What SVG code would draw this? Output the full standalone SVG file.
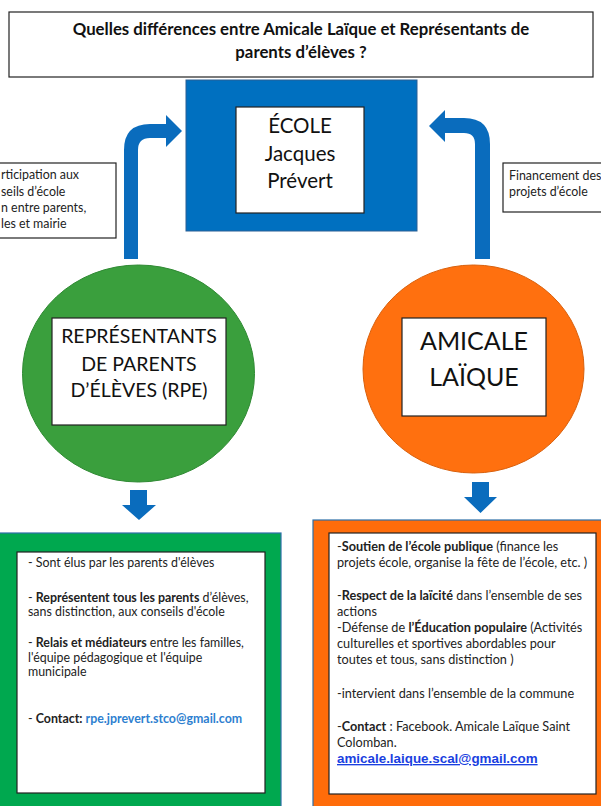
<svg xmlns="http://www.w3.org/2000/svg" width="601" height="806" viewBox="0 0 601 806">
<style>
.box{fill:#fff;stroke:#222;stroke-width:1.2}
.big{font-family:Lato,"Liberation Sans",sans-serif;fill:#111;text-anchor:middle}
.sm{font-family:Lato,"Liberation Sans",sans-serif;fill:#222;font-size:12.4px}
.om{font-family:Lato,"Liberation Sans",sans-serif;fill:#222;font-size:12.7px}
.b{font-weight:bold}
.arrow{fill:#0a6cbd}
</style>
<rect width="601" height="806" fill="#fff"/>
<g id="title">
<rect x="9" y="12" width="584" height="65" class="box"/>
<text class="big b" x="301" y="35" font-size="16.8">Quelles différences entre Amicale Laïque et Représentants de</text>
<text class="big b" x="301" y="58" font-size="16.8">parents d’élèves ?</text>
</g>
<g id="ecole">
<rect x="186" y="80" width="231" height="151" fill="#0070c0" stroke="#2a5f94" stroke-width="1"/>
<rect x="236" y="107" width="128" height="106" class="box"/>
<text class="big" x="300" y="133" font-size="20.5">ÉCOLE</text>
<text class="big" x="300" y="161" font-size="20.5">Jacques</text>
<text class="big" x="300" y="188" font-size="20.5">Prévert</text>
</g>
<g id="label-left">
<rect x="-2" y="163" width="118" height="75" class="box"/>
<text class="sm" x="1" y="179">rticipation aux</text>
<text class="sm" x="1" y="196">seils d’école</text>
<text class="sm" x="1" y="212">n entre parents,</text>
<text class="sm" x="1" y="228">les et mairie</text>
</g>
<g id="label-right">
<rect x="503" y="163" width="102" height="49" class="box"/>
<text class="sm" x="509" y="180">Financement des</text>
<text class="sm" x="509" y="196">projets d’école</text>
</g>
<g id="rpe">
<ellipse cx="138.5" cy="373.5" rx="116" ry="108.5" fill="#3a9f3d" stroke="#2f8a33" stroke-width="1"/>
<rect x="52" y="318" width="174" height="107" class="box"/>
<text class="big" x="139" y="343" font-size="19.5">REPRÉSENTANTS</text>
<text class="big" x="139" y="371" font-size="19.5">DE PARENTS</text>
<text class="big" x="139" y="397" font-size="19.5">D’ÉLÈVES (RPE)</text>
</g>
<g id="amicale">
<ellipse cx="473.5" cy="369" rx="110.5" ry="104" fill="#ff700f" stroke="#d9600c" stroke-width="1"/>
<rect x="402" y="318" width="144" height="98" class="box"/>
<text class="big" x="474" y="350" font-size="25">AMICALE</text>
<text class="big" x="474" y="386" font-size="25">LAÏQUE</text>
</g>
<g id="rpe-details">
<rect x="-2" y="533" width="283" height="280" fill="#00a84f" stroke="#2e6fa8" stroke-width="1.2"/>
<rect x="17" y="552" width="248" height="241" class="box"/>
<text class="sm" x="28" y="567">- Sont élus par les parents d'élèves</text>
<text class="sm" x="28" y="602">- <tspan class="b">Représentent tous les parents</tspan> d’élèves,</text>
<text class="sm" x="28" y="616">sans distinction, aux conseils d'école</text>
<text class="sm" x="28" y="647">- <tspan class="b">Relais et médiateurs</tspan> entre les familles,</text>
<text class="sm" x="28" y="662">l'équipe pédagogique et l'équipe</text>
<text class="sm" x="28" y="676">municipale</text>
<text class="sm" x="28" y="723" font-size="12.7">- <tspan class="b">Contact: </tspan><tspan class="b" fill="#2e7fd0">rpe.jprevert.stco@gmail.com</tspan></text>
</g>
<g id="amicale-details">
<rect x="313" y="520" width="292" height="293" fill="#ff6c0a" stroke="#2e6fa8" stroke-width="1.2"/>
<rect x="329" y="533" width="267" height="261" class="box"/>
<text class="om" x="337" y="551">-<tspan class="b">Soutien de l’école publique</tspan> (finance les</text>
<text class="om" x="337" y="567">projets école, organise la fête de l’école, etc. )</text>
<text class="om" x="337" y="600">-<tspan class="b">Respect de la laïcité</tspan> dans l’ensemble de ses</text>
<text class="om" x="337" y="616">actions</text>
<text class="om" x="337" y="632">-Défense de <tspan class="b">l’Éducation populaire</tspan> (Activités</text>
<text class="om" x="337" y="648">culturelles et sportives abordables pour</text>
<text class="om" x="337" y="664">toutes et tous, sans distinction )</text>
<text class="om" x="337" y="698">-intervient dans l’ensemble de la commune</text>
<text class="om" x="337" y="731">-<tspan class="b">Contact</tspan> : Facebook. Amicale Laïque Saint</text>
<text class="om" x="337" y="747">Colomban.</text>
<text x="337" y="763" font-family="'Liberation Sans',Arial,sans-serif" font-size="13.4" font-weight="bold" fill="#1a3fe0" text-decoration="underline">amicale.laique.scal@gmail.com</text>
</g>
<g id="connectors">
<path class="arrow" d="M124 259 L124 150 Q124 124 150 124 L166 124 L166 115 L182 131 L166 147 L166 138 L150 138 Q138 138 138 150 L138 259 Z"/>
<path class="arrow" d="M490 259 L490 144 Q490 118 464 118 L445 118 L445 110 L429 126 L445 142 L445 133 L464 133 Q475 133 475 144 L475 259 Z"/>
<path class="arrow" d="M130 490 L147 490 L147 505 L156 505 L139 520 L122 505 L130 505 Z"/>
<path class="arrow" d="M472 482 L489 482 L489 497 L497 497 L480.5 513 L464 497 L472 497 Z"/>
</g>
</svg>
